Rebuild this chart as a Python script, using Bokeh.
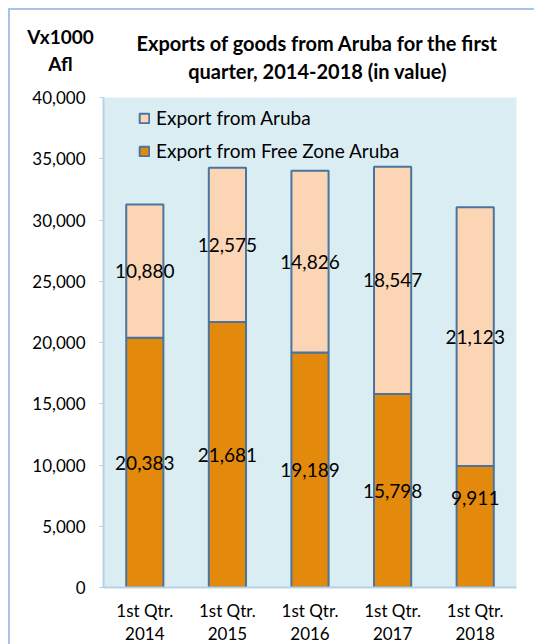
from bokeh.plotting import figure
from bokeh.layouts import column, row
from bokeh.models import (ColumnDataSource, FactorRange, Range1d, NumeralTickFormatter,
                          Legend, LegendItem, FixedTicker)
from bokeh.core.properties import value
from bokeh.embed import file_html
from bokeh.resources import INLINE

# ---- data ----
quarters = ["1st Qtr.\n2014", "1st Qtr.\n2015", "1st Qtr.\n2016", "1st Qtr.\n2017", "1st Qtr.\n2018"]
free_zone = [20383, 21681, 19189, 15798, 9911]
aruba = [10880, 12575, 14826, 18547, 21123]
y_ticks = [0, 5000, 10000, 15000, 20000, 25000, 30000, 35000, 40000]
series_names = ["Export from Aruba", "Export from Free Zone Aruba"]
title_lines = ["Exports of goods from Aruba for the first", "quarter, 2014-2018 (in value)"]
unit_lines = ["Vx1000", "Afl"]

# ---- styles ----
ORANGE = "#E38A0D"
PEACH = "#FCD5B5"
OUTLINE = "#4A749E"
BG = "#DAEDF3"
AXIS = "#B9D1E6"
FRAME = "#A7C4E4"
FONT = "Lato"

# ---- header (title + unit) ----
HEAD_H = 87
head = figure(width=534, height=HEAD_H, x_range=Range1d(0, 534), y_range=Range1d(HEAD_H, 0),
              x_axis_type=None, y_axis_type=None, min_border=0,
              output_backend="svg", toolbar_location=None,
              background_fill_color=None, border_fill_color=None, outline_line_color=None)
head.xgrid.visible = False
head.ygrid.visible = False
head.text(x=[317, 317], y=[42, 70], text=title_lines, text_align="center", text_baseline="middle",
          text_font=value(FONT), text_font_size="20px", text_font_style="bold", text_color="#000000")
head.text(x=[60, 60], y=[36, 63], text=unit_lines, text_align="center", text_baseline="middle",
          text_font=value(FONT), text_font_size="19px", text_font_style="bold", text_color="#000000")

# ---- main chart ----
src = ColumnDataSource(dict(q=quarters, fz=free_zone, ar=aruba))

p = figure(x_range=FactorRange(factors=quarters, range_padding=0),
           y_range=Range1d(0, 40000),
           frame_width=413, frame_height=490,
           min_border_left=103, min_border_right=18, min_border_top=10, min_border_bottom=57,
           output_backend="svg", toolbar_location=None,
           background_fill_color=BG, border_fill_color=None, outline_line_color=None)

rs = p.vbar_stack(["fz", "ar"], x="q", width=0.45, source=src,
                  fill_color=[ORANGE, PEACH], line_color=OUTLINE, line_width=2)
r_fz, r_ar = rs

# value labels
lab_x = list(quarters) + list(quarters)
lab_y = [v / 2 for v in free_zone] + [f + a / 2 for f, a in zip(free_zone, aruba)]
lab_t = [f"{v:,}" for v in free_zone] + [f"{v:,}" for v in aruba]
lab_off = [0] * len(lab_t)
lab_off[len(free_zone) - 1] = -29  # last free-zone label sits lower in the source
p.text(x=lab_x, y=lab_y, text=lab_t, y_offset=lab_off, text_align="center", text_baseline="middle",
       text_font=value(FONT), text_font_size="19px", text_color="#000000")

# axes
p.xgrid.grid_line_color = None
p.ygrid.grid_line_color = None
p.yaxis.ticker = FixedTicker(ticks=y_ticks)
p.yaxis.formatter = NumeralTickFormatter(format="0,0")
p.yaxis.minor_tick_line_color = None
p.yaxis.major_tick_in = 0
p.yaxis.major_tick_out = 4
p.yaxis.major_label_standoff = 14
for ax in (p.xaxis[0], p.yaxis[0]):
    ax.axis_line_color = AXIS
    ax.axis_line_width = 2
    ax.major_tick_line_color = AXIS
    ax.major_label_text_font = FONT
    ax.major_label_text_color = "#000000"
p.yaxis.major_label_text_font_size = "17px"
p.xaxis.major_tick_line_color = None
p.xaxis.major_tick_out = 0
p.xaxis.major_label_text_font_size = "17px"
p.xaxis.major_label_standoff = 12
p.xaxis.major_label_text_line_height = 1.1

legend = Legend(items=[LegendItem(label=series_names[0], renderers=[r_ar]),
                       LegendItem(label=series_names[1], renderers=[r_fz])],
                location=(35, 425), margin=0, padding=0, spacing=10,
                glyph_width=12, glyph_height=12, label_height=20, label_standoff=6,
                background_fill_alpha=0, border_line_color=None,
                label_text_font=FONT, label_text_font_size="19px", label_text_color="#000000")
p.add_layout(legend)

layout = column(row(head), p, spacing=0)
layout.styles = {
    "background": (f"linear-gradient({FRAME}, {FRAME}) 8px 8px / 2px 100% no-repeat, "
                   f"linear-gradient({FRAME}, {FRAME}) 8px 8px / 100% 2px no-repeat, #FFFFFF")
}

open("out.html", "w").write(file_html(layout, INLINE))
